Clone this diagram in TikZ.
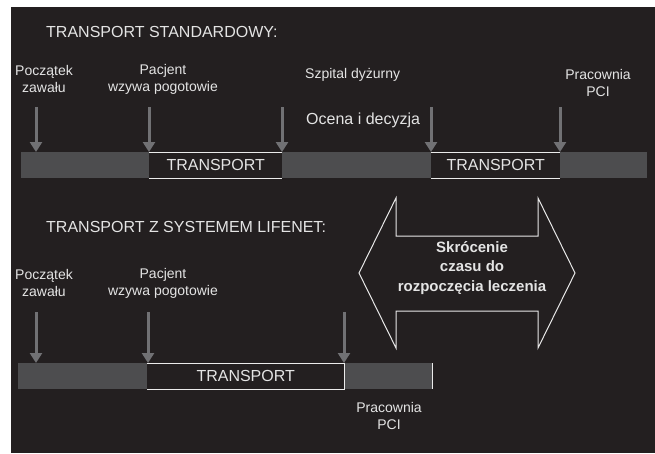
\documentclass[tikz,border=0pt]{standalone}
\usepackage{fontspec}
\setmainfont{Liberation Sans}
\usetikzlibrary{arrows.meta}
\definecolor{tlo}{HTML}{231F20}
\definecolor{szary}{HTML}{4D4D4F}
\definecolor{strzalka}{HTML}{717174}
\definecolor{napis}{HTML}{E4E4E4}

\begin{document}
\begin{tikzpicture}[x=1pt, y=-1pt,
    pasek/.style = {fill=szary, inner sep=0pt, minimum height=26pt, anchor=north west},
    trans/.style = {fill=tlo, inner sep=0pt, minimum height=26pt,
                    anchor=north west, text=napis, font=\fontsize{16}{19}\selectfont},
    kreska/.style = {draw=napis!75, line width=0.6pt},
    opis/.style = {text=napis, align=center, inner sep=0pt, font=\fontsize{14}{17}\selectfont},
    tytul/.style = {text=napis, anchor=west, inner sep=0pt, font=\fontsize{16}{19}\selectfont},
    strz/.style = {draw=strzalka, line width=3pt, -{Triangle[width=12pt,length=10pt]}}]
    \useasboundingbox (0,0) rectangle (655,453);
    \fill[white] (0,0) rectangle (655,453);
    \fill[tlo] (11,7) rectangle (655,453);

    % transport standardowy
    \node[tytul] (t1) at (46,32) {TRANSPORT STANDARDOWY:};
    \node[pasek, minimum width=626pt] (p1) at (21,152) {};
    \node[trans, minimum width=133pt] (tr1) at (149,152) {TRANSPORT};
    \node[trans, minimum width=129pt] (tr2) at (431,152) {TRANSPORT};
    \foreach \t in {tr1,tr2}
        \draw[kreska] (\t.north west) -- (\t.north east) (\t.south west) -- (\t.south east);
    \node[opis] (a1) at (44,79) {Początek\\zawału};
    \node[opis] (a2) at (163,79) {Pacjent\\wzywa pogotowie};
    \node[opis, anchor=west] (a3) at (305,75) {Szpital dyżurny};
    \node[opis, anchor=west, font=\fontsize{16}{19}\selectfont] (a4) at (306,120) {Ocena i decyzja};
    \node[opis] (a5) at (598,83) {Pracownia\\PCI};
    \coordinate (s1) at (36,107);
    \coordinate (s2) at (149,107);
    \coordinate (s3) at (282,107);
    \coordinate (s4) at (431,107);
    \coordinate (s5) at (560,107);
    \foreach \s in {s1,s2,s3,s4,s5}
        \draw[strz] (\s) -- (\s |- p1.north);

    % transport z systemem lifenet
    \node[tytul] (t2) at (46,227) {TRANSPORT Z SYSTEMEM LIFENET:};
    \node[pasek, minimum width=414pt] (p2) at (18,363) {};
    \node[trans, minimum width=197pt] (tr3) at (147,363) {TRANSPORT};
    \draw[kreska] (tr3.north west) -- (tr3.north east) -- (tr3.south east) -- (tr3.south west);
    \draw[kreska] (p2.north east) -- (p2.south east);
    \node[opis] (b1) at (44,283) {Początek\\zawału};
    \node[opis] (b2) at (163,283) {Pacjent\\wzywa pogotowie};
    \node[opis] (b3) at (389,416) {Pracownia\\PCI};
    \coordinate (r1) at (36,312);
    \coordinate (r2) at (148,312);
    \coordinate (r3) at (344,312);
    \foreach \s in {r1,r2,r3}
        \draw[strz] (\s) -- (\s |- p2.north);

    % skrocenie czasu
    \draw[napis!85, fill=tlo, line width=1pt, line join=miter]
        (359,273) -- (396,198) -- (396,236) -- (538,236) -- (538,198) -- (575,273)
        -- (538,348) -- (538,311) -- (396,311) -- (396,348) -- cycle;
    \node[opis, font=\bfseries\fontsize{15}{19.5}\selectfont] (sk) at (472,268)
        {Skrócenie\\czasu do\\rozpoczęcia leczenia};
\end{tikzpicture}
\end{document}
